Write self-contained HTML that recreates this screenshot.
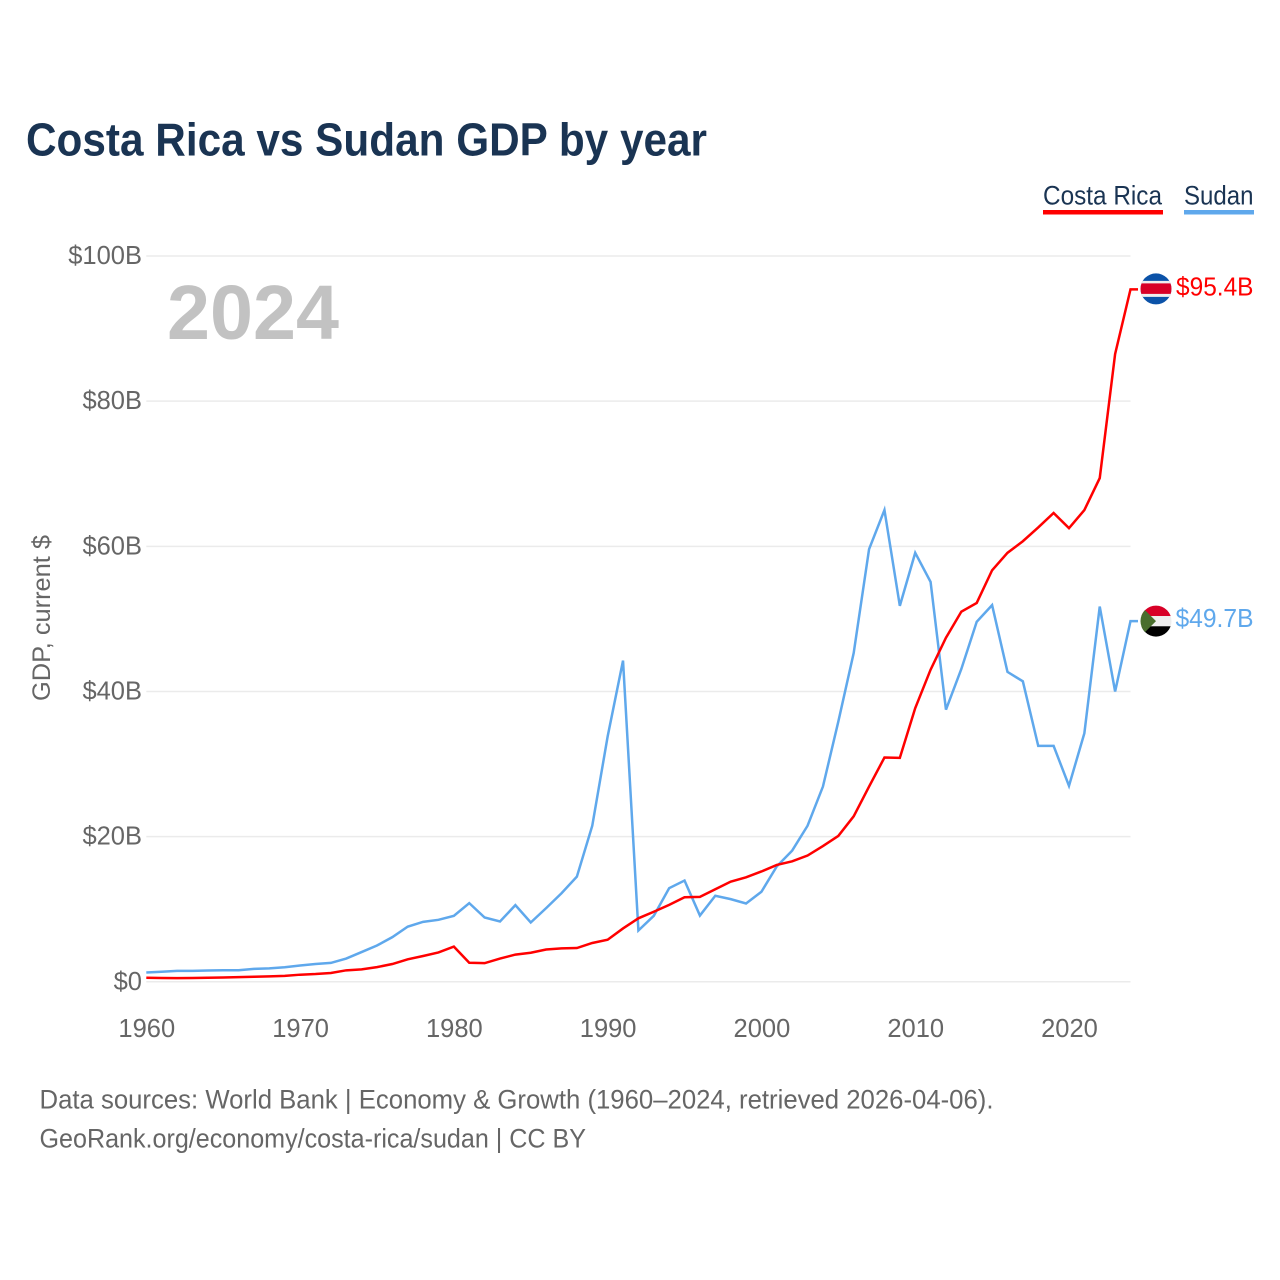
<!DOCTYPE html>
<html lang="en">
<head>
<meta charset="utf-8">
<title>Costa Rica vs Sudan GDP by year</title>
<style>
html,body{margin:0;padding:0;background:#fff;}
svg{display:block;}
text{font-family:"Liberation Sans",sans-serif;}
</style>
</head>
<body>
<svg id="chart" xmlns="http://www.w3.org/2000/svg" width="1280" height="1280" viewBox="0 0 1280 1280">
  <rect x="0" y="0" width="1280" height="1280" fill="#ffffff"/>
  <text x="26" y="155.5" font-size="46" font-weight="700" fill="#1a3453" textLength="681" lengthAdjust="spacingAndGlyphs">Costa Rica vs Sudan GDP by year</text>

  <g id="grid"></g>
  <g id="yticks"></g>
  <g id="xticks"></g>

  <text x="167" y="339" font-size="77" font-weight="700" fill="#c2c2c2" textLength="172" lengthAdjust="spacingAndGlyphs">2024</text>
  <text transform="translate(50,618) rotate(-90)" text-anchor="middle" font-size="25" fill="#666666" textLength="166" lengthAdjust="spacingAndGlyphs">GDP, current $</text>

  <g>
    <g>
      <text x="1043" y="204.5" font-size="26.5" fill="#1a3453" textLength="119" lengthAdjust="spacingAndGlyphs">Costa Rica</text>
      <rect x="1043" y="210" width="120" height="4.5" fill="#ff0000"/>
    </g>
    <g>
      <text x="1184" y="204.5" font-size="26.5" fill="#1a3453" textLength="69.5" lengthAdjust="spacingAndGlyphs">Sudan</text>
      <rect x="1184" y="210" width="70" height="4.5" fill="#5fa8ec"/>
    </g>
  </g>

  <g id="series"></g>

  <defs>
    <clipPath id="flag-clip"><circle cx="0" cy="0" r="15.5"/></clipPath>
  </defs>
  <g id="flag-cr">
    <g clip-path="url(#flag-clip)">
      <rect x="-16" y="-16" width="32" height="32" fill="#0b52a8"/>
      <rect x="-16" y="-8" width="32" height="16" fill="#eeeeee"/>
      <rect x="-16" y="-5.5" width="32" height="10.5" fill="#d80027"/>
    </g>
  </g>
  <g id="flag-sd">
    <g clip-path="url(#flag-clip)">
      <rect x="-16" y="-16" width="32" height="11" fill="#d80027"/>
      <rect x="-16" y="-5" width="32" height="10.4" fill="#eeeeee"/>
      <rect x="-16" y="5.2" width="32" height="11" fill="#000000"/>
      <polygon points="-16,-16 0,0 -16,16" fill="#496e2d"/>
    </g>
  </g>
  <text id="end-cr" x="1176" font-size="25.5" fill="#ff0000" textLength="77.5" lengthAdjust="spacingAndGlyphs"></text>
  <text id="end-sd" x="1175.5" font-size="25.5" fill="#5fa8ec" textLength="78" lengthAdjust="spacingAndGlyphs"></text>

  <g>
    <text x="39.5" y="1108.5" font-size="26.5" fill="#666666" textLength="954" lengthAdjust="spacingAndGlyphs">Data sources: World Bank | Economy &amp; Growth (1960–2024, retrieved 2026-04-06).</text>
    <text x="39.5" y="1147.5" font-size="26.5" fill="#666666" textLength="546.5" lengthAdjust="spacingAndGlyphs">GeoRank.org/economy/costa-rica/sudan | CC BY</text>
  </g>
</svg>
<script>
const years = [1960,1961,1962,1963,1964,1965,1966,1967,1968,1969,1970,1971,1972,1973,1974,1975,1976,1977,1978,1979,1980,1981,1982,1983,1984,1985,1986,1987,1988,1989,1990,1991,1992,1993,1994,1995,1996,1997,1998,1999,2000,2001,2002,2003,2004,2005,2006,2007,2008,2009,2010,2011,2012,2013,2014,2015,2016,2017,2018,2019,2020,2021,2022,2023,2024];
const costaRica = [0.55,0.52,0.5,0.53,0.56,0.6,0.65,0.7,0.75,0.82,0.98,1.07,1.22,1.58,1.72,2.02,2.45,3.1,3.55,4.05,4.85,2.62,2.57,3.2,3.75,4.0,4.45,4.6,4.65,5.35,5.8,7.35,8.75,9.65,10.6,11.65,11.7,12.75,13.8,14.4,15.2,16.1,16.6,17.4,18.7,20.1,22.8,26.9,30.9,30.85,37.7,43.0,47.4,51.0,52.2,56.7,59.1,60.7,62.6,64.6,62.5,65.0,69.4,86.5,95.4];
const sudan = [1.28,1.38,1.5,1.5,1.55,1.6,1.6,1.78,1.85,2.0,2.25,2.45,2.6,3.2,4.1,5.0,6.15,7.6,8.26,8.54,9.09,10.84,8.86,8.31,10.56,8.17,10.15,12.2,14.5,21.5,33.8,44.25,7.07,9.09,12.9,13.95,9.13,11.85,11.39,10.79,12.4,15.9,18.08,21.5,26.9,35.85,45.3,59.6,65.0,51.8,59.1,55.1,37.5,43.1,49.6,51.9,42.7,41.4,32.5,32.5,27.0,34.25,51.7,40.0,49.7];
const yTickValues = [0,20,40,60,80,100];
const yTickLabels = ["$0","$20B","$40B","$60B","$80B","$100B"];
const xTickValues = [1960,1970,1980,1990,2000,2010,2020];
const xTickLabels = ["1960","1970","1980","1990","2000","2010","2020"];
const endLabels = ["$95.4B","$49.7B"];

const SVGNS = "http://www.w3.org/2000/svg";
const plot = {left:146.3, right:1130.5, top:256, bottom:981.8, xMin:1960, xMax:2024, yMin:0, yMax:100};
function xScale(v){ return plot.left + (v - plot.xMin) / (plot.xMax - plot.xMin) * (plot.right - plot.left); }
function yScale(v){ return plot.bottom - (v - plot.yMin) / (plot.yMax - plot.yMin) * (plot.bottom - plot.top); }

const gridGroup = document.getElementById("grid");
const yTickGroup = document.getElementById("yticks");
const xTickGroup = document.getElementById("xticks");
const seriesGroup = document.getElementById("series");

yTickValues.forEach(function(v, i){
  const line = document.createElementNS(SVGNS, "line");
  
  
  line.setAttribute("x1", plot.left);
  line.setAttribute("x2", plot.right);
  line.setAttribute("y1", yScale(v));
  line.setAttribute("y2", yScale(v));
  line.setAttribute("stroke", "#ebebeb");
  line.setAttribute("stroke-width", "1.5");
  gridGroup.appendChild(line);

  const label = document.createElementNS(SVGNS, "text");
  
  
  label.setAttribute("x", 142);
  label.setAttribute("y", yScale(v) + 8);
  label.setAttribute("text-anchor", "end");
  label.setAttribute("font-size", "25.5");
  label.setAttribute("fill", "#666666");
  label.textContent = yTickLabels[i];
  yTickGroup.appendChild(label);
});

xTickValues.forEach(function(v, i){
  const label = document.createElementNS(SVGNS, "text");
  
  
  label.setAttribute("x", xScale(v) + 0.5);
  label.setAttribute("y", 1037);
  label.setAttribute("text-anchor", "middle");
  label.setAttribute("font-size", "25.5");
  label.setAttribute("fill", "#666666");
  label.textContent = xTickLabels[i];
  xTickGroup.appendChild(label);
});

function linePath(values){
  return values.map(function(v, i){
    return (i === 0 ? "M" : "L") + xScale(years[i]).toFixed(2) + " " + yScale(v).toFixed(2);
  }).join(" ");
}

const sudanLine = document.createElementNS(SVGNS, "path");


sudanLine.setAttribute("d", linePath(sudan) + " h7.5");
sudanLine.setAttribute("fill", "none");
sudanLine.setAttribute("stroke", "#5fa8ec");
sudanLine.setAttribute("stroke-width", "2.5");
sudanLine.setAttribute("stroke-linejoin", "miter");
seriesGroup.appendChild(sudanLine);

const costaRicaLine = document.createElementNS(SVGNS, "path");


costaRicaLine.setAttribute("d", linePath(costaRica) + " h7.5");
costaRicaLine.setAttribute("fill", "none");
costaRicaLine.setAttribute("stroke", "#ff0000");
costaRicaLine.setAttribute("stroke-width", "2.5");
costaRicaLine.setAttribute("stroke-linejoin", "miter");
seriesGroup.appendChild(costaRicaLine);

const crLast = yScale(costaRica[costaRica.length - 1]);
const sdLast = yScale(sudan[sudan.length - 1]);
document.getElementById("flag-cr").setAttribute("transform", "translate(1156," + (crLast - 0.5) + ")");
document.getElementById("flag-sd").setAttribute("transform", "translate(1156," + sdLast + ")");
const endCr = document.getElementById("end-cr");
endCr.setAttribute("y", crLast + 6);
endCr.textContent = endLabels[0];
const endSd = document.getElementById("end-sd");
endSd.setAttribute("y", sdLast + 6);
endSd.textContent = endLabels[1];
</script>
</body>
</html>
